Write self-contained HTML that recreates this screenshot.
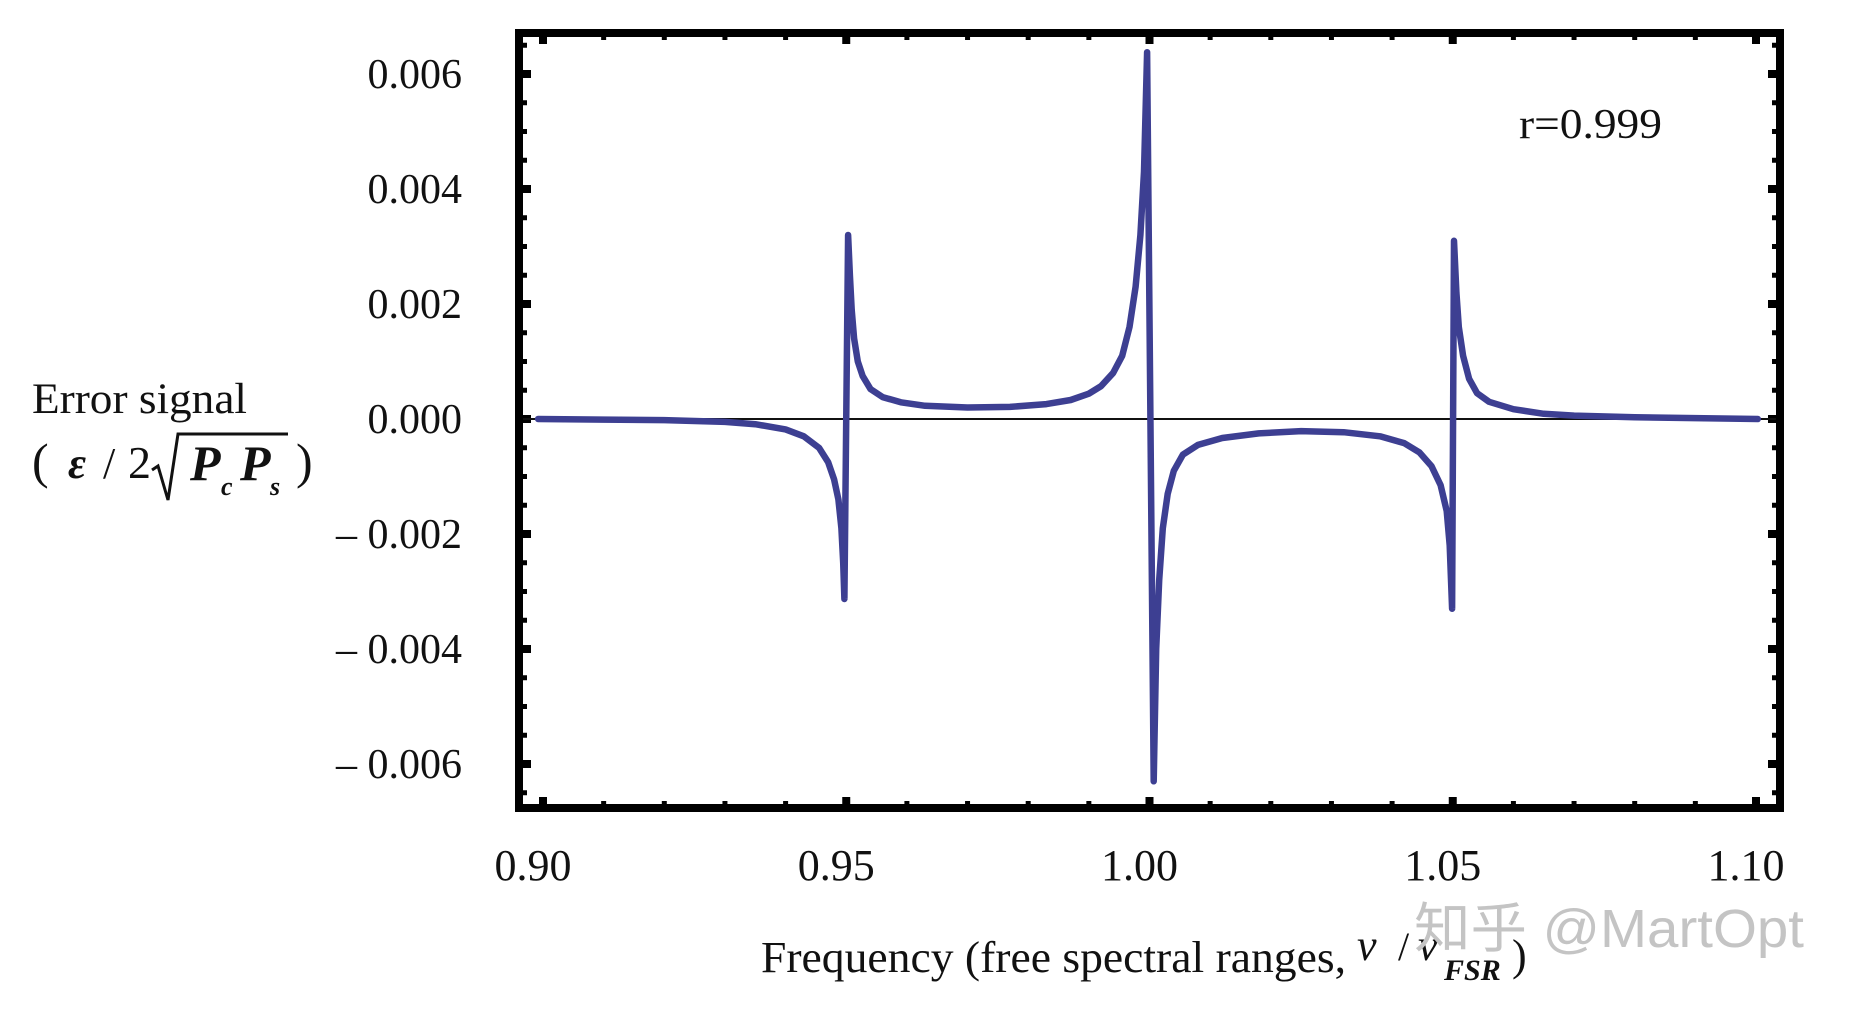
<!DOCTYPE html>
<html><head><meta charset="utf-8"><style>
html,body{margin:0;padding:0;background:#fff;width:1851px;height:1009px;overflow:hidden}
svg{display:block}
text{font-family:"Liberation Serif",serif;fill:#111}
</style></head><body>
<svg id="chart" width="1851" height="1009" viewBox="0 0 1851 1009" xmlns="http://www.w3.org/2000/svg">
<g id="ticks"></g>
<line x1="519" y1="419" x2="1780" y2="419" stroke="#111" stroke-width="2"/>
<path id="curve" fill="none" stroke="#3d3f92" stroke-width="6.5" stroke-linejoin="round" stroke-linecap="round"/>
<rect x="519" y="33" width="1261" height="775" fill="none" stroke="#000" stroke-width="8"/>
<g id="ylabels"></g>
<g id="xlabels"></g>
<text x="1519" y="138" font-size="42" textLength="143" lengthAdjust="spacingAndGlyphs">r=0.999</text>
<text x="32" y="413" font-size="43" textLength="215" lengthAdjust="spacingAndGlyphs">Error signal</text>
<g>
<text x="32" y="478" font-size="50">(</text>
<text x="68" y="478" font-size="44" font-style="italic" font-weight="bold">ε</text>
<text x="103" y="478" font-size="44">/</text>
<text x="128" y="478" font-size="46">2</text>
<path d="M152 470 L158 466 L168 500 L178 434 L288 434" fill="none" stroke="#111" stroke-width="3"/>
<text x="190" y="480" font-size="50" font-style="italic" font-weight="bold">P</text>
<text x="221" y="495" font-size="26" font-style="italic" font-weight="bold">c</text>
<text x="240" y="480" font-size="50" font-style="italic" font-weight="bold">P</text>
<text x="270" y="495" font-size="26" font-style="italic" font-weight="bold">s</text>
<text x="296" y="478" font-size="50">)</text>
</g>
<g>
<text x="761" y="972" font-size="44" textLength="585" lengthAdjust="spacingAndGlyphs">Frequency (free spectral ranges,</text>
<text x="1357" y="960" font-size="44" font-style="italic">ν</text>
<text x="1398" y="960" font-size="40">/</text>
<text x="1418" y="960" font-size="44" font-style="italic">ν</text>
<text x="1444" y="980" font-size="30" font-style="italic" font-weight="bold">FSR</text>
<text x="1512" y="970" font-size="44">)</text>
</g>
<text x="1414" y="947" font-size="54" style="font-family:'Liberation Sans','Noto Sans CJK SC',sans-serif;fill:#c4c4c4" textLength="390" lengthAdjust="spacingAndGlyphs">知乎 @MartOpt</text>
</svg>
<script>
// data (x in FSR units, y in units of 1e-3)
const xVals = [0.8992,0.91,0.92,0.93,0.935,0.94,0.943,0.9455,0.947,0.948,0.9487,0.9492,0.9495,0.9497,
0.9503,0.9506,0.9509,0.9513,0.9519,0.9527,0.954,0.956,0.959,0.963,0.97,0.977,0.983,0.987,0.990,0.992,0.994,0.9955,0.9967,0.9977,0.9985,0.9991,0.9996,
1.0007,1.0011,1.0016,1.0022,1.003,1.004,1.0055,1.008,1.012,1.018,1.025,1.032,1.038,1.042,1.0445,1.0465,1.048,1.049,1.0495,1.0499,
1.0502,1.0506,1.051,1.0517,1.0527,1.054,1.056,1.06,1.065,1.07,1.08,1.09,1.1003];
const yVals = [0,-0.01,-0.02,-0.05,-0.09,-0.18,-0.3,-0.5,-0.75,-1.05,-1.4,-1.9,-2.5,-3.13,
3.2,2.5,1.9,1.4,1.0,0.75,0.52,0.38,0.29,0.23,0.2,0.21,0.26,0.33,0.44,0.57,0.8,1.1,1.6,2.3,3.2,4.3,6.38,
-6.3,-4.0,-2.8,-1.9,-1.3,-0.9,-0.62,-0.45,-0.33,-0.25,-0.21,-0.23,-0.3,-0.42,-0.58,-0.82,-1.15,-1.6,-2.2,-3.3,
3.1,2.2,1.6,1.1,0.7,0.45,0.3,0.17,0.09,0.06,0.03,0.015,0];
const xTickLabels = ["0.90","0.95","1.00","1.05","1.10"];
const xTickValues = [0.90,0.95,1.00,1.05,1.10];
const yTickLabels = ["0.006","0.004","0.002","0.000","– 0.002","– 0.004","– 0.006"];
const yTickValues = [6,4,2,0,-2,-4,-6];

const X0=543, XPU=6065, Y0=419, YPU=57.5;
function sx(v){return X0+(v-0.9)*XPU;}
function sy(v){return Y0-v*YPU;}
const NS="http://www.w3.org/2000/svg";

let d="";
for(let i=0;i<xVals.length;i++){d+=(i?"L":"M")+sx(xVals[i]).toFixed(1)+" "+sy(yVals[i]).toFixed(1)+" ";}
document.getElementById('curve').setAttribute('d',d);

const tg=document.getElementById('ticks');
function tick(x1,y1,x2,y2,w){
  const l=document.createElementNS(NS,'line');
  
  
  l.setAttribute('x1',x1);l.setAttribute('y1',y1);l.setAttribute('x2',x2);l.setAttribute('y2',y2);
  l.setAttribute('stroke','#000');l.setAttribute('stroke-width',w);
  tg.appendChild(l);
}
for(let k=0;k<=20;k++){
  const v=0.9+k*0.01, x=sx(v), major=(k%5===0);
  const len=major?11:7, w=major?8:5;
  tick(x,33,x,33+len,w); tick(x,808,x,808-len,w);
}
for(let k=-13;k<=13;k++){
  const v=k*0.5, y=sy(v), major=(k%4===0);
  const len=major?12:8, w=major?8:5;
  tick(519,y,519+len,y,w); tick(1780,y,1780-len,y,w);
}

const yl=document.getElementById('ylabels');
for(let i=0;i<yTickLabels.length;i++){
  const t=document.createElementNS(NS,'text');
  
  
  t.setAttribute('x',462);t.setAttribute('y',sy(yTickValues[i])+14);
  t.setAttribute('font-size','42');t.setAttribute('text-anchor','end');
  t.textContent=yTickLabels[i];
  yl.appendChild(t);
}
const xl=document.getElementById('xlabels');
for(let i=0;i<xTickLabels.length;i++){
  const t=document.createElementNS(NS,'text');
  
  
  t.setAttribute('x',sx(xTickValues[i])-10);t.setAttribute('y',880);
  t.setAttribute('font-size','44');t.setAttribute('text-anchor','middle');
  t.textContent=xTickLabels[i];
  xl.appendChild(t);
}
</script>
</body></html>
